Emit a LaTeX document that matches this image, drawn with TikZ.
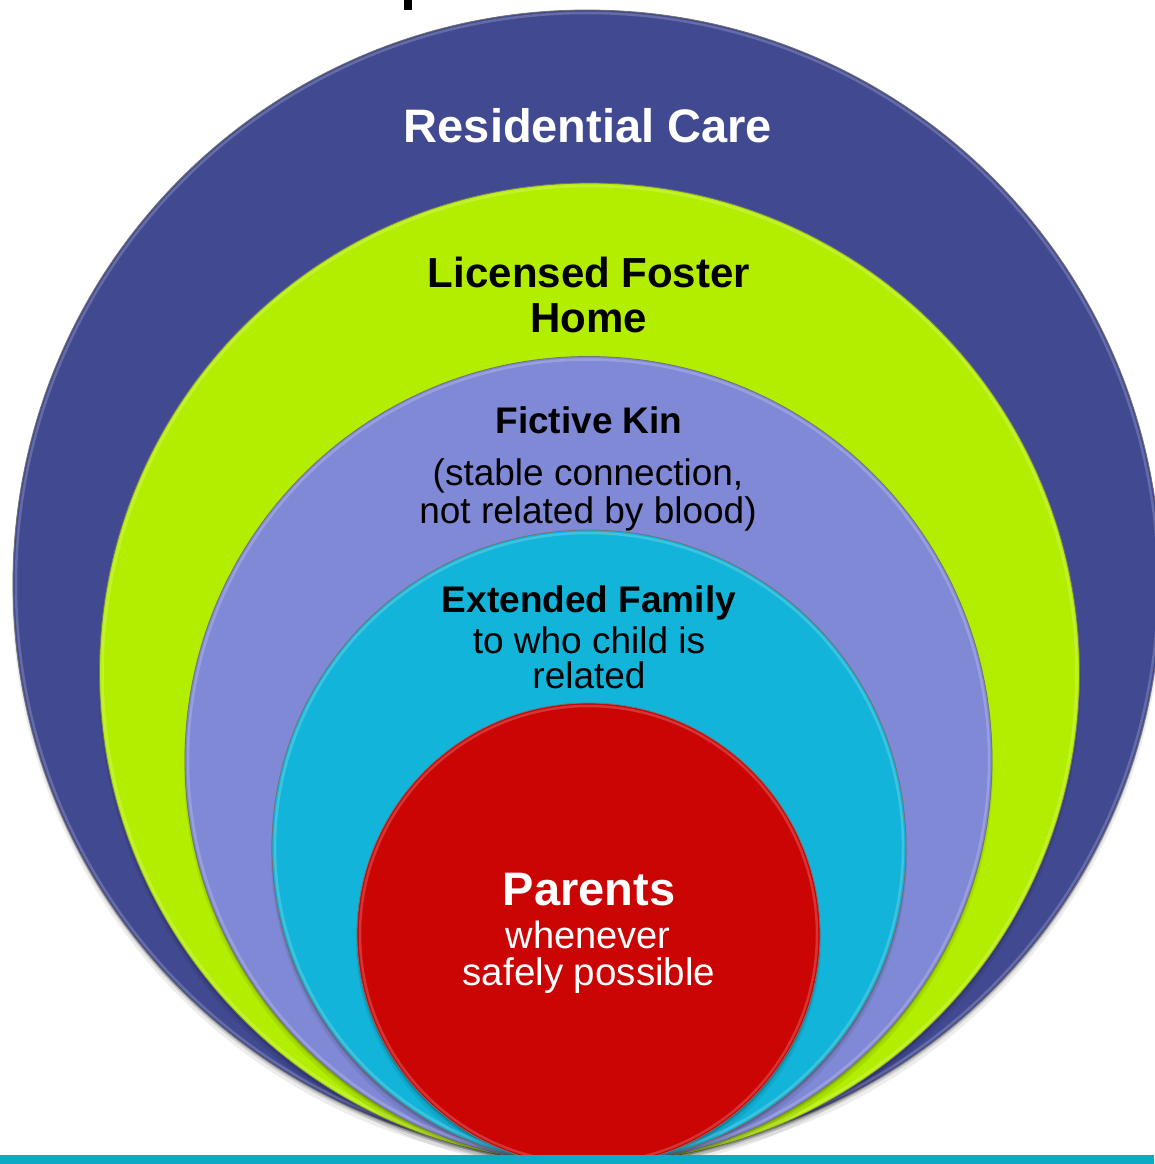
\documentclass[tikz,border=0pt]{standalone}
\usepackage{fontspec}
\setmainfont{Liberation Sans}
\definecolor{cblue}{HTML}{414991}
\definecolor{cgreen}{HTML}{B3EE00}
\definecolor{clav}{HTML}{8089D6}
\definecolor{ccyan}{HTML}{12B4D9}
\definecolor{cred}{HTML}{CB0404}
\definecolor{cbar}{HTML}{0CA9C9}
\tikzset{
  ring/.style={circle, inner sep=0pt, draw=black!55, line width=0.8pt},
  lbl/.style={anchor=base, inner sep=0pt, align=center},
  rim/.style={line width=2.5pt, opacity=0.55},
}
\newcommand{\fsz}[1]{\fontsize{#1}{#1}\selectfont}
\begin{document}
\begin{tikzpicture}[x=1pt,y=-1pt]
\useasboundingbox (0,0) rectangle (1154,1164);
\fill[white] (0,0) rectangle (1154,1164);
% fragment of cut-off text at the top
\fill[black] (404,0) rectangle (412,10);
% shadows and circles
\foreach \cx/\cy/\r/\col/\nm in {587/584/574/cblue/c1, 589.5/673/490/cgreen/c2, 588.5/760/403.5/clav/c3, 589/847/317/ccyan/c4, 588.5/934.5/231.5/cred/c5}{
  \fill[black,opacity=0.07] (\cx,\cy+7) circle[radius=\r+1];
  \fill[black,opacity=0.10] (\cx,\cy+4) circle[radius=\r];
  \fill[black,opacity=0.15] (\cx,\cy+2) circle[radius=\r];
  \node[ring, fill=\col, minimum size=2*\r pt] (\nm) at (\cx,\cy) {};
  \draw[rim, draw=\col!65!white] (\cx,\cy) circle[radius=\r-3];
}
% bottom bar
\fill[cbar] (0,1155) rectangle (1154,1164);
% labels
\node[lbl, text=white, font=\bfseries\fsz{47}] (rc) at (588,142) {Residential Care};
\node[lbl, font=\bfseries\fsz{42}] (lf1) at (589,287) {Licensed Foster};
\node[lbl, font=\bfseries\fsz{42}] (lf2) at (589,332) {Home};
\node[lbl, font=\bfseries\fsz{37}] (fk1) at (589,433) {Fictive Kin};
\node[lbl, font=\fsz{37}] (fk2) at (588,485) {(stable connection,};
\node[lbl, font=\fsz{37}] (fk3) at (588,523) {not related by blood)};
\node[lbl, font=\bfseries\fsz{37}] (ef1) at (589,612) {Extended Family};
\node[lbl, font=\fsz{37}] (ef2) at (589,653) {to who child is};
\node[lbl, font=\fsz{37}] (ef3) at (589,688) {related};
\node[lbl, text=white, font=\bfseries\fsz{47}] (pa1) at (589,905) {Parents};
\node[lbl, text=white, font=\fsz{38}] (pa2) at (588,948) {whenever};
\node[lbl, text=white, font=\fsz{38.5}] (pa3) at (589,985) {safely possible};
\end{tikzpicture}
\end{document}
